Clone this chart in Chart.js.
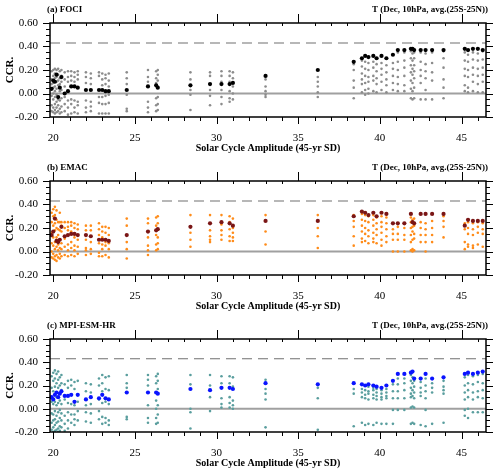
<!DOCTYPE html>
<html>
<head>
<meta charset="utf-8">
<script src="https://cdn.jsdelivr.net/npm/chart.js@4.4.1/dist/chart.umd.min.js"></script>
<style>
  html, body { margin: 0; padding: 0; background: #fff; }
  .panel { position: relative; width: 500px; }
  canvas { display: block; }
</style>
</head>
<body>
<div class="panel"><canvas id="chartA" width="500" height="158"></canvas></div>
<div class="panel"><canvas id="chartB" width="500" height="158"></canvas></div>
<div class="panel"><canvas id="chartC" width="500" height="157"></canvas></div>
<script>
// solar cycle amplitude of each sample column (shared by the three models)
const colX = [
  19.9, 20.0, 20.1, 20.2, 20.3, 20.4, 20.5, 20.7, 20.9, 21.1, 21.3, 21.5,
  22.0, 22.3, 22.8, 23.0, 23.2, 23.4, 24.5, 25.8, 26.3, 26.4, 28.4, 29.6,
  30.3, 30.8, 31.0, 33.0, 36.2, 38.4, 38.9, 39.1, 39.3, 39.6, 39.8, 40.1,
  40.4, 40.8, 41.1, 41.5, 41.9, 42.0, 42.1, 42.5, 42.8, 43.2, 43.9, 45.2,
  45.4, 45.7, 46.0, 46.3
];

const yTicks = [-0.2, 0, 0.2, 0.4, 0.6];
const xTicks = [20, 25, 30, 35, 40, 45];
const sigLevel = 0.43;

// (a) FOCI
const fociMean = [
  0.04, 0.11, 0.10, 0.16, -0.03, 0.05, 0.14, 0.00, 0.02, 0.06, 0.06, 0.05,
  0.03, 0.03, 0.03, 0.03, 0.02, 0.02, 0.03, 0.06, 0.07, 0.05, 0.07, 0.08,
  0.08, 0.08, 0.09, 0.15, 0.20, 0.27, 0.30, 0.32, 0.31, 0.32, 0.30, 0.32,
  0.30, 0.33, 0.37, 0.37, 0.38, 0.38, 0.37, 0.37, 0.37, 0.37, 0.37, 0.38,
  0.37, 0.38, 0.38, 0.37
];
const fociMembers = [
  [0.19, 0.12, 0.08, -0.02, -0.10, -0.15],
  [0.20, 0.15, 0.09, 0.05, 0.00, -0.05, -0.12, -0.16],
  [0.21, 0.17, 0.13, 0.06, 0.02, -0.03, -0.09, -0.14, -0.17],
  [0.20, 0.14, 0.10, 0.04, -0.01, -0.07, -0.12, -0.16],
  [0.21, 0.16, 0.11, 0.07, -0.05, -0.10, -0.15],
  [0.19, 0.13, 0.08, 0.02, -0.06, -0.13, -0.17],
  [0.20, 0.15, 0.10, 0.03, -0.04, -0.11, -0.16],
  [0.18, 0.12, 0.06, -0.03, -0.09, -0.15],
  [0.19, 0.14, 0.10, -0.06, -0.12, -0.18],
  [0.19, 0.15, 0.11, -0.05, -0.09, -0.17],
  [0.18, 0.14, 0.10, -0.06, -0.12, -0.16],
  [0.19, 0.16, 0.12, -0.07, -0.10, -0.17],
  [0.18, 0.14, 0.09, -0.06, -0.12, -0.16],
  [0.17, 0.13, 0.08, -0.07, -0.11, -0.15],
  [0.18, 0.15, -0.03, -0.08, -0.17],
  [0.17, 0.12, 0.07, -0.03, -0.09, -0.17],
  [0.16, 0.13, 0.08, -0.02, -0.09, -0.17],
  [0.17, 0.11, 0.06, -0.01, -0.08, -0.17],
  [0.18, 0.13, 0.08, -0.01, -0.13, -0.15],
  [0.20, 0.14, 0.10, -0.07, -0.12, -0.16],
  [0.19, 0.13, 0.09, -0.04, -0.10, -0.15],
  [0.20, 0.16, 0.11, -0.03, -0.09, -0.14],
  [0.18, 0.12, 0.03, -0.01, -0.14],
  [0.18, 0.15, 0.03, -0.02, -0.10],
  [0.19, 0.15, 0.10, 0.03, -0.03, -0.09],
  [0.19, 0.15, 0.10, 0.02, -0.04, -0.07],
  [0.18, 0.13, 0.06, 0.00, -0.05],
  [0.12, 0.06, 0.02, -0.01, -0.03],
  [0.14, 0.10, 0.06, 0.01, -0.03],
  [0.25, 0.20, 0.11, 0.05, -0.04],
  [0.28, 0.23, 0.17, 0.12, 0.08, 0.01],
  [0.27, 0.21, 0.15, 0.09, 0.03, -0.01],
  [0.26, 0.20, 0.14, 0.10, 0.04, 0.00],
  [0.27, 0.22, 0.15, 0.11, 0.02],
  [0.25, 0.19, 0.13, 0.08, 0.01],
  [0.26, 0.21, 0.16, 0.10, 0.03],
  [0.24, 0.18, 0.12, 0.07, 0.01],
  [0.33, 0.26, 0.21, 0.15, 0.09, 0.03],
  [0.35, 0.27, 0.20, 0.14, 0.08, 0.02],
  [0.35, 0.28, 0.22, 0.15, 0.07, 0.02],
  [0.36, 0.30, 0.24, 0.18, 0.11, 0.04, -0.04],
  [0.34, 0.28, 0.21, 0.16, 0.09, 0.02, -0.05],
  [0.35, 0.30, 0.24, 0.19, 0.13, 0.05, -0.04],
  [0.35, 0.27, 0.20, 0.15, 0.09, -0.05],
  [0.34, 0.25, 0.19, 0.13, 0.03, -0.05],
  [0.35, 0.26, 0.18, 0.11, -0.05],
  [0.36, 0.30, 0.22, 0.12, 0.05, -0.04],
  [0.35, 0.28, 0.21, 0.15, 0.07, 0.02],
  [0.33, 0.27, 0.20, 0.14, 0.05, 0.01],
  [0.35, 0.29, 0.22, 0.16, 0.10, 0.02],
  [0.34, 0.28, 0.21, 0.15, 0.08, 0.01],
  [0.36, 0.29, 0.22, 0.16, 0.10, 0.01]
];

// (b) EMAC
const emacMean = [
  0.14, 0.17, 0.28, 0.09, 0.08, 0.10, 0.21, 0.13, 0.14, 0.15, 0.15, 0.14,
  0.14, 0.13, 0.10, 0.10, 0.10, 0.09, 0.14, 0.17, 0.18, 0.19, 0.21, 0.24,
  0.25, 0.24, 0.22, 0.26, 0.26, 0.30, 0.34, 0.33, 0.31, 0.33, 0.30, 0.33,
  0.32, 0.24, 0.24, 0.24, 0.32, 0.25, 0.24, 0.32, 0.32, 0.32, 0.32, 0.22,
  0.27, 0.26, 0.26, 0.26
];
const emacMembers = [
  [0.33, 0.25, 0.16, 0.07, 0.00, -0.05],
  [0.36, 0.30, 0.22, 0.12, 0.05, -0.02, -0.06],
  [0.38, 0.31, 0.24, 0.18, 0.08, 0.02, -0.04, -0.07],
  [0.35, 0.27, 0.20, 0.12, 0.04, -0.03, -0.08],
  [0.25, 0.19, 0.14, 0.06, 0.01, -0.05],
  [0.33, 0.25, 0.18, 0.03, -0.02, -0.06],
  [0.25, 0.22, 0.17, 0.07, 0.02, -0.04],
  [0.25, 0.20, 0.11, 0.04, -0.03],
  [0.25, 0.21, 0.18, 0.06, 0.01, -0.04],
  [0.25, 0.22, 0.17, 0.08, 0.03, -0.03],
  [0.24, 0.20, 0.12, 0.05, 0.01, -0.04],
  [0.23, 0.19, 0.10, 0.04, -0.02],
  [0.22, 0.18, 0.10, 0.03, 0.01, -0.03],
  [0.22, 0.18, 0.08, 0.02, -0.02],
  [0.24, 0.19, 0.14, 0.07, -0.01, -0.04],
  [0.21, 0.17, 0.12, 0.06, 0.02, -0.04],
  [0.21, 0.16, 0.08, 0.05, -0.03],
  [0.20, 0.14, 0.07, 0.02, -0.05],
  [0.28, 0.22, 0.08, 0.02, -0.06],
  [0.28, 0.24, 0.12, 0.05, 0.01, -0.03],
  [0.29, 0.22, 0.14, 0.06, 0.01],
  [0.30, 0.24, 0.12, 0.07, 0.02],
  [0.31, 0.16, 0.10, 0.04],
  [0.31, 0.18, 0.13, 0.10, 0.08],
  [0.31, 0.23, 0.18, 0.14, 0.10],
  [0.30, 0.25, 0.19, 0.13, 0.09],
  [0.28, 0.20, 0.16, 0.12, 0.09],
  [0.31, 0.17, 0.06],
  [0.31, 0.20, 0.13, 0.03],
  [0.31, 0.26, 0.21, 0.13, 0.05],
  [0.32, 0.27, 0.22, 0.17, 0.11, 0.08],
  [0.31, 0.26, 0.20, 0.15, 0.09],
  [0.30, 0.25, 0.18, 0.13, 0.07],
  [0.31, 0.27, 0.22, 0.16, 0.11, 0.08],
  [0.29, 0.24, 0.19, 0.14, 0.07],
  [0.30, 0.25, 0.21, 0.16, 0.10, 0.05],
  [0.29, 0.24, 0.19, 0.13, 0.08],
  [0.19, 0.15, 0.10, 0.00],
  [0.21, 0.15, 0.10, 0.00],
  [0.20, 0.14, 0.10, 0.00],
  [0.29, 0.25, 0.20, 0.14, 0.08, 0.01],
  [0.27, 0.21, 0.17, 0.10, 0.02, 0.00],
  [0.28, 0.22, 0.15, 0.11, 0.01],
  [0.25, 0.20, 0.14, 0.08],
  [0.24, 0.19, 0.14, 0.08, 0.00],
  [0.26, 0.20, 0.14, 0.08],
  [0.30, 0.26, 0.21, 0.12],
  [0.24, 0.19, 0.08, 0.02],
  [0.25, 0.20, 0.15, 0.06, 0.04],
  [0.24, 0.19, 0.14, 0.05, 0.03],
  [0.25, 0.21, 0.16, 0.06],
  [0.24, 0.19, 0.15, 0.04]
];

// (c) MPI-ESM-HR
const mpiMean = [
  0.10, 0.08, 0.12, 0.14, 0.10, 0.13, 0.15, 0.11, 0.11, 0.12, 0.06, 0.12,
  0.08, 0.10, 0.09, 0.12, 0.09, 0.08, 0.14, 0.14, 0.14, 0.13, 0.17, 0.16,
  0.18, 0.18, 0.17, 0.22, 0.21, 0.22, 0.21, 0.20, 0.21, 0.20, 0.19, 0.18,
  0.20, 0.24, 0.30, 0.30, 0.31, 0.32, 0.26, 0.26, 0.30, 0.26, 0.27, 0.30,
  0.31, 0.30, 0.31, 0.32
];
const mpiMembers = [
  [0.28, 0.18, 0.06, -0.04, -0.12, -0.18],
  [0.31, 0.24, 0.15, 0.04, -0.05, -0.10, -0.16, -0.20],
  [0.33, 0.26, 0.19, 0.06, -0.02, -0.09, -0.14, -0.19],
  [0.30, 0.22, 0.10, 0.03, -0.06, -0.12, -0.18],
  [0.32, 0.25, 0.18, 0.05, -0.03, -0.11, -0.17, -0.20],
  [0.27, 0.20, 0.07, -0.01, -0.08, -0.15, -0.19],
  [0.29, 0.22, 0.16, 0.04, -0.04, -0.10, -0.16],
  [0.21, 0.08, -0.06, -0.13, -0.19],
  [0.24, 0.18, 0.05, -0.03, -0.10, -0.17],
  [0.25, 0.20, 0.04, -0.05, -0.12],
  [0.23, 0.17, 0.03, -0.05, -0.09, -0.14],
  [0.24, 0.06, -0.02, -0.10],
  [0.22, 0.15, 0.03, -0.03, -0.11],
  [0.21, 0.14, 0.04, -0.04, -0.12],
  [0.26, 0.20, 0.08, -0.02, -0.09],
  [0.29, 0.22, 0.15, 0.05, -0.07, -0.13],
  [0.27, 0.17, 0.06, -0.08, -0.12],
  [0.28, 0.16, 0.04, -0.10, -0.14],
  [0.29, 0.22, 0.18, -0.07, -0.09],
  [0.29, 0.25, 0.20, 0.03, -0.08, -0.12],
  [0.28, 0.22, 0.07, 0.00, -0.08, -0.13],
  [0.30, 0.24, 0.17, 0.03, -0.05, -0.12],
  [0.29, 0.21, 0.00, -0.03, -0.17],
  [0.29, 0.20, 0.10, -0.02],
  [0.28, 0.22, 0.09, 0.04, 0.01],
  [0.28, 0.22, 0.10, 0.05, 0.01],
  [0.27, 0.19, 0.07, 0.03, 0.00],
  [0.25, 0.17, 0.13, 0.08, -0.16],
  [0.21, 0.18, 0.09, -0.18],
  [0.22, 0.17, 0.13, -0.15],
  [0.21, 0.17, 0.14, 0.10, -0.12],
  [0.20, 0.16, 0.12, 0.09, -0.14],
  [0.19, 0.15, 0.13, 0.08, -0.13],
  [0.18, 0.16, 0.12, 0.09, -0.14],
  [0.17, 0.14, 0.11, 0.08, -0.12],
  [0.16, 0.13, 0.10, 0.08, -0.13],
  [0.17, 0.14, 0.11, 0.09, -0.13],
  [0.21, 0.15, 0.09, -0.01, -0.13],
  [0.26, 0.21, 0.15, 0.09, -0.01],
  [0.26, 0.22, 0.16, 0.09, -0.01],
  [0.29, 0.24, 0.18, 0.13, 0.10, 0.01, -0.13],
  [0.27, 0.22, 0.16, 0.11, 0.02, -0.12],
  [0.24, 0.19, 0.14, 0.09, 0.01, -0.13],
  [0.23, 0.18, 0.14, 0.11, -0.14],
  [0.26, 0.20, 0.15, 0.09, -0.01, -0.15],
  [0.22, 0.18, 0.14, -0.13],
  [0.24, 0.19, 0.16, 0.13, -0.12],
  [0.27, 0.20, 0.14, 0.08, -0.01, -0.06],
  [0.29, 0.22, 0.16, 0.10, 0.00, -0.08],
  [0.28, 0.21, 0.14, 0.08, -0.03],
  [0.29, 0.23, 0.15, 0.10, -0.03],
  [0.30, 0.22, 0.16, 0.09, -0.03]
];

const SERIF = "'Liberation Serif', 'Times New Roman', serif";
const X_MIN = 19.8, X_MAX = 46.5;

function memberPoints(members) {
  const pts = [];
  colX.forEach((x, i) => members[i].forEach(y => pts.push({ x, y })));
  return pts;
}

function meanPoints(means) {
  return colX.map((x, i) => ({ x, y: means[i] }));
}

// frame, minor ticks and panel titles
const framePlugin = {
  id: "frame",
  afterDraw(chart, args, opts) {
    const { ctx, chartArea: a, scales: { x, y } } = chart;
    ctx.save();
    ctx.strokeStyle = "#000";
    ctx.lineWidth = 1;
    ctx.beginPath();
    for (let v = 20; v <= 46; v++) {
      const px = Math.round(x.getPixelForValue(v)) + 0.5;
      const major = v % 5 === 0;
      if (major) {
        ctx.moveTo(px, a.top);
        ctx.lineTo(px, a.top - 9);
      } else {
        ctx.moveTo(px, a.top);
        ctx.lineTo(px, a.top + 3);
      }
      ctx.moveTo(px, a.bottom);
      ctx.lineTo(px, a.bottom + (major ? 7 : 4));
    }
    for (let k = -4; k <= 12; k++) {
      const v = k * 0.05;
      const py = Math.round(y.getPixelForValue(v)) + 0.5;
      const major = k % 4 === 0;
      const len = major ? 7 : 4;
      ctx.moveTo(a.left, py);
      ctx.lineTo(a.left - len, py);
      ctx.moveTo(a.right, py);
      ctx.lineTo(a.right + len, py);
    }
    ctx.stroke();
    ctx.lineWidth = 1.5;
    ctx.strokeRect(a.left, a.top, a.right - a.left, a.bottom - a.top);

    ctx.fillStyle = "#000";
    ctx.font = "bold 9px " + SERIF;
    ctx.textBaseline = "middle";
    ctx.textAlign = "left";
    ctx.fillText(opts.label, a.left - 3, 10);
    ctx.textAlign = "right";
    ctx.fillText("T (Dec, 10hPa, avg.(25S-25N))", a.right + 2, 10);
    ctx.restore();
  }
};

function createPanel(canvas, label, members, means, memberColor, meanColor) {
  new Chart(canvas, {
    type: "scatter",
    data: {
      datasets: [
        {
          data: meanPoints(means),
          backgroundColor: meanColor,
          borderColor: meanColor,
          pointRadius: 2.1,
          borderWidth: 0,
          order: 0,
        },
        {
          data: memberPoints(members),
          backgroundColor: memberColor,
          borderColor: memberColor,
          pointRadius: 1.3,
          borderWidth: 0,
          order: 1,
        },
        {
          type: "line",
          data: [{ x: X_MIN, y: 0 }, { x: X_MAX, y: 0 }],
          borderColor: "#a0a0a0",
          borderWidth: 2,
          pointRadius: 0,
          order: 2,
        },
        {
          type: "line",
          data: [{ x: X_MIN, y: sigLevel }, { x: X_MAX, y: sigLevel }],
          borderColor: "#707070",
          borderWidth: 1.2,
          borderDash: [10, 6],
          pointRadius: 0,
          order: 2,
        },
      ],
    },
    options: {
      responsive: false,
      animation: false,
      layout: { padding: { top: 23, right: 14, left: 0, bottom: 0 } },
      plugins: {
        legend: { display: false },
        tooltip: { enabled: false },
        frame: { label },
      },
      scales: {
        x: {
          type: "linear",
          min: X_MIN,
          max: X_MAX,
          afterBuildTicks: (scale) => {
            scale.ticks = xTicks.map(v => ({ value: v }));
          },
          afterFit: (scale) => { scale.height = 41; },
          grid: { display: false, drawTicks: false },
          border: { display: false },
          ticks: {
            color: "#000",
            padding: 15,
            maxRotation: 0,
            font: { family: SERIF, size: 11 },
          },
          title: {
            display: true,
            text: "Solar Cycle Amplitude (45-yr SD)",
            color: "#000",
            font: { family: SERIF, size: 10, weight: "bold" },
            padding: { top: 0, bottom: 4 },
          },
        },
        y: {
          min: -0.2,
          max: 0.6,
          afterBuildTicks: (scale) => {
            scale.ticks = yTicks.map(v => ({ value: v }));
          },
          afterFit: (scale) => { scale.width = 50; },
          grid: { display: false, drawTicks: false },
          border: { display: false },
          ticks: {
            color: "#000",
            padding: 12,
            font: { family: SERIF, size: 11 },
            callback: (v) => Number(v).toFixed(2),
          },
          title: {
            display: true,
            text: "CCR.",
            color: "#000",
            font: { family: SERIF, size: 11, weight: "bold" },
            padding: { top: 4, bottom: 0 },
          },
        },
      },
    },
    plugins: [framePlugin],
  });
}

createPanel(document.getElementById("chartA"), "(a) FOCI", fociMembers, fociMean, "#8c8c8c", "#000000");
createPanel(document.getElementById("chartB"), "(b) EMAC", emacMembers, emacMean, "#ff8c1a", "#7a1616");
createPanel(document.getElementById("chartC"), "(c) MPI-ESM-HR", mpiMembers, mpiMean, "#5a9e9e", "#0a14ff");
</script>
</body>
</html>
